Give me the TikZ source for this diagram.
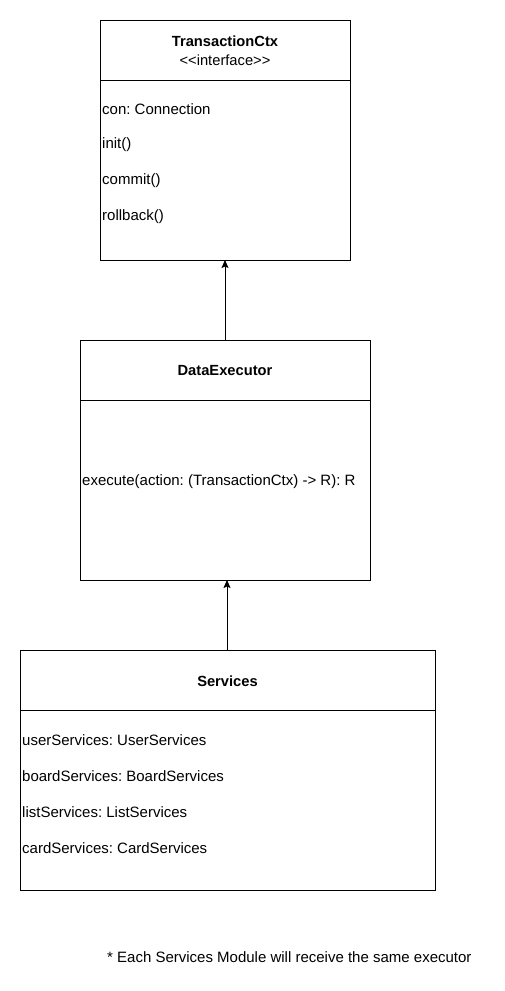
\documentclass[tikz,border=0pt]{standalone}
\usepackage{fontspec}
\setmainfont{Liberation Sans}
\frenchspacing
\usetikzlibrary{arrows.meta}
\begin{document}
\begin{tikzpicture}[x=1pt,y=-1pt,
  box/.style={draw,line width=0.9pt,anchor=north west,inner sep=0pt},
  title/.style={font=\fontsize{14.7}{17}\selectfont\bfseries},
  stereo/.style={font=\fontsize{14.7}{17}\selectfont},
  attr/.style={anchor=west,inner sep=0pt,font=\fontsize{15}{17}\selectfont},
  conn/.style={line width=0.9pt,-{Stealth[length=8pt,width=7pt,inset=1.5pt]}}]
\useasboundingbox (0,0) rectangle (505,991);
% TransactionCtx
\node[box,minimum width=250pt,minimum height=240pt] (tc) at (100,20) {};
\draw[line width=0.9pt] (100,80) -- (350,80);
\node[title] (tct) at (225,41) {TransactionCtx};
\node[stereo] (tcs) at (225,60) {<{}<interface>{}>};
\node[attr] (tc1) at (102,109) {con: Connection};
\node[attr] (tc2) at (102,145) {init()};
\node[attr] (tc3) at (102,181) {commit()};
\node[attr] (tc4) at (102,217) {rollback()};
% DataExecutor
\node[box,minimum width=290pt,minimum height=240pt] (de) at (80,340) {};
\draw[line width=0.9pt] (80,400) -- (370,400);
\node[title] (det) at (225,371) {DataExecutor};
\node[attr] (de1) at (82,482) {execute(action: (TransactionCtx) -> R): R};
% Services
\node[box,minimum width=415pt,minimum height=240pt] (sv) at (20,650) {};
\draw[line width=0.9pt] (20,710) -- (435,710);
\node[title] (svt) at (227.5,681) {Services};
\node[attr] (sv1) at (22,740) {userServices: UserServices};
\node[attr] (sv2) at (22,776) {boardServices: BoardServices};
\node[attr] (sv3) at (22,812) {listServices: ListServices};
\node[attr] (sv4) at (22,848) {cardServices: CardServices};
% connectors
\coordinate (a1s) at (225,340);
\coordinate (a1e) at (225,260);
\draw[conn] (a1s) -- (a1e);
\coordinate (a2s) at (227,650);
\coordinate (a2e) at (227,580);
\draw[conn] (a2s) -- (a2e);
% note
\node[attr] (note) at (107,957) {* Each Services Module will receive the same executor};
\end{tikzpicture}
\end{document}
